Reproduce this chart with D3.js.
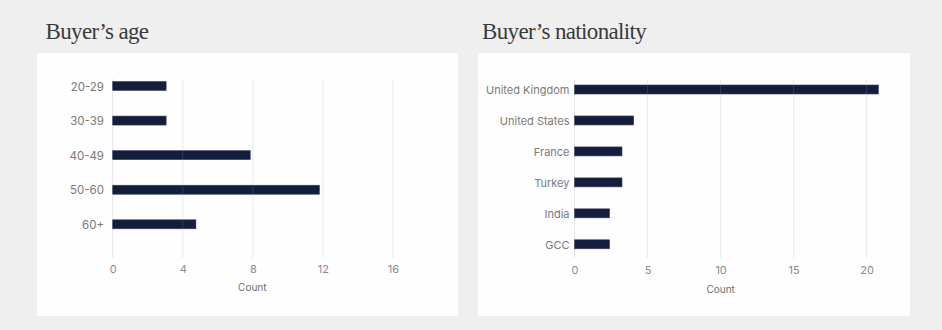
<!DOCTYPE html>
<html><head><meta charset="utf-8">
<script src="https://cdn.jsdelivr.net/npm/d3@7"></script>
<style>
html,body{margin:0;padding:0;background:#efefef;}
svg{display:block;}
</style></head>
<body>
<svg id="c" width="942" height="330"></svg>
<script>
const ageCategories = ["20-29","30-39","40-49","50-60","60+"];
const ageValues = [3.05, 3.05, 7.85, 11.8, 4.75];
const ageTicks = [0,4,8,12,16];

const natCategories = ["United Kingdom","United States","France","Turkey","India","GCC"];
const natValues = [20.8, 4.05, 3.25, 3.25, 2.4, 2.4];
const natTicks = [0,5,10,15,20];

const titles = ["Buyer\u2019s age","Buyer\u2019s nationality"];
const axisTitle = "Count";

const svg = d3.select("#c");
const barColor = "#131d3d";
const sans = "Inter, Lato, sans-serif";

function panel(cfg){
  const g = svg.append("g");
  g.append("rect").attr("x",cfg.card[0]).attr("y",cfg.card[1])
    .attr("width",cfg.card[2]).attr("height",cfg.card[3]).attr("fill","#fefefe");
  g.append("text").attr("x",cfg.titleX).attr("y",38.5)
    .attr("font-family","'Liberation Serif', serif").attr("font-size",23)
    .attr("letter-spacing","-0.65").attr("fill","#3a3a3a").text(cfg.title);
  const x = d3.scaleLinear().domain([0,cfg.per*cfg.ticks.length-cfg.per]).range([cfg.x0,cfg.xEnd]);
  const y = d3.scalePoint().domain(cfg.cats).range(cfg.yRange);
  g.append("g").selectAll("line").data(cfg.ticks).join("line")
    .attr("x1",d=>x(d)).attr("x2",d=>x(d)).attr("y1",cfg.gridTop).attr("y2",258)
    .attr("stroke",d=>d===0?"#e6e6e6":"#e8e8e8").attr("stroke-width",1);
  g.append("g").selectAll("rect").data(cfg.vals).join("rect")
    .attr("x",x(0)).attr("y",(d,i)=>y(cfg.cats[i])-4.5)
    .attr("width",d=>x(d)-x(0)).attr("height",9)
    .attr("fill",barColor).attr("stroke","#3a425a").attr("stroke-width",0.6);
  g.append("g").selectAll("line").data(cfg.ticks.filter(t=>t>0)).join("line")
    .attr("x1",d=>x(d)).attr("x2",d=>x(d)).attr("y1",cfg.gridTop).attr("y2",258)
    .attr("stroke","#ffffff").attr("stroke-opacity",0.12);
  const ya = d3.axisLeft(y).tickSize(0).tickPadding(0);
  const yg = g.append("g").attr("transform",`translate(${cfg.labelX},0)`).call(ya);
  yg.select(".domain").remove();
  yg.selectAll("text").attr("font-family",sans)
    .attr("font-size",cfg.labelSize).attr("fill","#7a7a7a").attr("dy","0.35em");
  const xa = d3.axisBottom(x).tickValues(cfg.ticks).tickSize(0).tickPadding(0).tickFormat(d3.format("d"));
  const xg = g.append("g").attr("transform",`translate(0,${cfg.tickY})`).call(xa);
  xg.select(".domain").remove();
  xg.selectAll("text").attr("font-family",sans)
    .attr("font-size",11).attr("fill","#8a8a8a").attr("dy","0.35em");
  g.append("text").attr("x",cfg.countX).attr("y",cfg.countY).attr("dy","0.35em")
    .attr("text-anchor","middle").attr("font-family",sans)
    .attr("font-size",10).attr("fill","#6e6e6e").text(axisTitle);
}

panel({card:[37,53,421,263], title:titles[0], titleX:45.5,
  cats:ageCategories, vals:ageValues, ticks:ageTicks, per:4,
  x0:112.7, xEnd:393, yRange:[86,224.3], gridTop:79,
  labelX:104, labelSize:11.5, tickY:269, countX:252.3, countY:287});

panel({card:[478,53,432,263], title:titles[1], titleX:482,
  cats:natCategories, vals:natValues, ticks:natTicks, per:5,
  x0:574.5, xEnd:866.7, yRange:[89.5,244.3], gridTop:79,
  labelX:569.5, labelSize:11, tickY:270, countX:720.7, countY:289});
</script>
</body></html>
